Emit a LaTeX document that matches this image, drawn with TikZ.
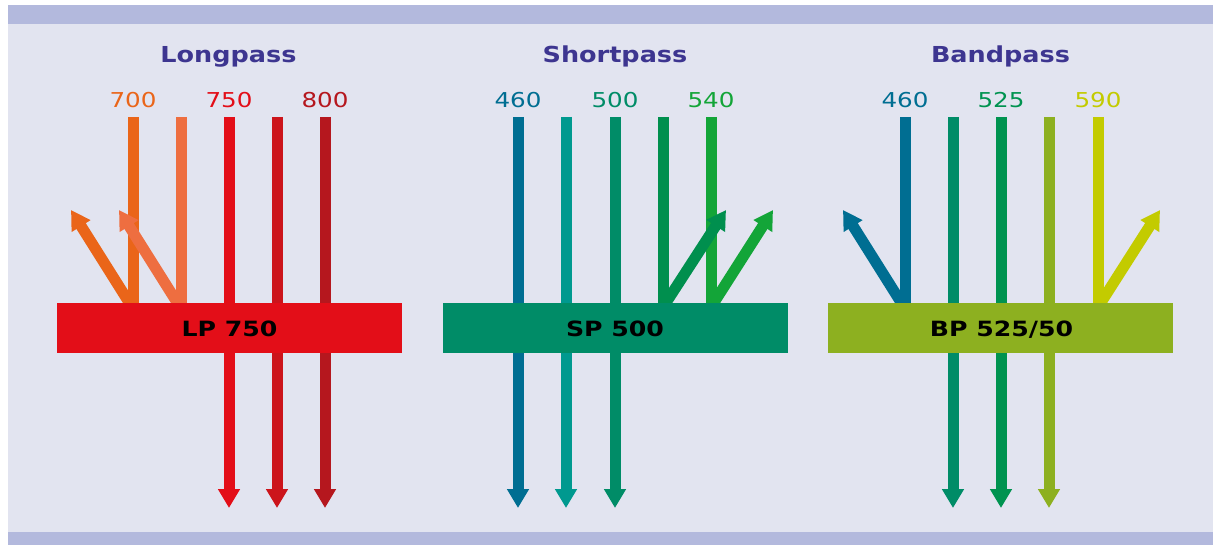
\documentclass[tikz,border=0pt]{standalone}
\usepackage{fontspec}
\setmainfont{Open Sans}
\newfontfamily\ttlfont[FakeStretch=1.16]{DejaVu Sans Bold}
\newfontfamily\filtfont[FakeStretch=1.2]{DejaVu Sans Bold}
\newfontfamily\wlfont[FakeStretch=1.2]{DejaVu Sans}
\usetikzlibrary{arrows.meta}
\definecolor{bgc}{HTML}{E2E4F0}
\definecolor{bandc}{HTML}{B3B9DD}
\definecolor{titlec}{HTML}{3D3590}
\definecolor{lpA}{HTML}{EA6519}
\definecolor{lpB}{HTML}{EE6E40}
\definecolor{lpC}{HTML}{E30E18}
\definecolor{lpD}{HTML}{CC141B}
\definecolor{lpE}{HTML}{B5171E}
\definecolor{spA}{HTML}{006E92}
\definecolor{spB}{HTML}{00998F}
\definecolor{spC}{HTML}{008C67}
\definecolor{spD}{HTML}{008F4E}
\definecolor{spE}{HTML}{13A538}
\definecolor{bpC}{HTML}{009350}
\definecolor{bpD}{HTML}{8DB020}
\definecolor{bpE}{HTML}{C3CB00}
\begin{document}
\begin{tikzpicture}[x=1pt,y=-1pt,
  ray/.style={line width=11pt},
  arr/.style={line width=11pt,-{Triangle[width=21pt,length=19pt]}},
  filt/.style={minimum width=345pt,minimum height=50pt,inner sep=0pt},
  filtlbl/.style={anchor=base,inner sep=0pt,font=\filtfont\fontsize{21}{21}\selectfont,text=black},
  wl/.style={anchor=base,inner sep=0pt,font=\wlfont\fontsize{20.5}{20.5}\selectfont},
  ttl/.style={anchor=base,inner sep=0pt,font=\ttlfont\fontsize{22}{22}\selectfont,text=titlec}]
\useasboundingbox (0,0) rectangle (1213,545);
\fill[white] (0,0) rectangle (1213,545);
\fill[bgc] (8,5) rectangle (1213,545);
\fill[bandc] (8,5) rectangle (1213,24);
\fill[bandc] (8,532) rectangle (1213,545);

% titles
\node[ttl] (t1) at (228.5,63) {Longpass};
\node[ttl] (t2) at (615,63) {Shortpass};
\node[ttl] (t3) at (1000.5,63) {Bandpass};

% wavelength labels
\node[wl,text=lpA] (w700) at (133,108) {700};
\node[wl,text=lpC] (w750) at (229,108) {750};
\node[wl,text=lpE] (w800) at (325,108) {800};
\node[wl,text=spA] (w460a) at (518,108) {460};
\node[wl,text=spC] (w500) at (615,108) {500};
\node[wl,text=spE] (w540) at (711,108) {540};
\node[wl,text=spA] (w460b) at (905,108) {460};
\node[wl,text=bpC] (w525) at (1001,108) {525};
\node[wl,text=bpE] (w590) at (1098,108) {590};

% coordinates: line tops and bottoms
\foreach \n/\x in {a1/133,a2/181,a3/229,a4/277,a5/325,
                   b1/518,b2/566,b3/615,b4/663,b5/711,
                   c1/905,c2/953,c3/1001,c4/1049,c5/1098}{
  \coordinate (\n t) at (\x,117);
  \coordinate (\n m) at (\x,315);
  \coordinate (\n s) at (\x,353);
  \coordinate (\n e) at (\x,508);
}
% reflection coordinates
\coordinate (ra1s) at (137,315); \coordinate (ra1e) at (71,210);
\coordinate (ra2s) at (185,315); \coordinate (ra2e) at (119,210);
\coordinate (rb4s) at (658,315); \coordinate (rb4e) at (726,210);
\coordinate (rb5s) at (706,315); \coordinate (rb5e) at (773,210);
\coordinate (rc1s) at (909,315); \coordinate (rc1e) at (843,210);
\coordinate (rc5s) at (1093,315); \coordinate (rc5e) at (1160,210);

% incoming rays
\draw[ray,lpA] (a1t) -- (a1m);
\draw[ray,lpB] (a2t) -- (a2m);
\draw[ray,lpC] (a3t) -- (a3m);
\draw[ray,lpD] (a4t) -- (a4m);
\draw[ray,lpE] (a5t) -- (a5m);
\draw[ray,spA] (b1t) -- (b1m);
\draw[ray,spB] (b2t) -- (b2m);
\draw[ray,spC] (b3t) -- (b3m);
\draw[ray,spD] (b4t) -- (b4m);
\draw[ray,spE] (b5t) -- (b5m);
\draw[ray,spA] (c1t) -- (c1m);
\draw[ray,spC] (c2t) -- (c2m);
\draw[ray,bpC] (c3t) -- (c3m);
\draw[ray,bpD] (c4t) -- (c4m);
\draw[ray,bpE] (c5t) -- (c5m);

% reflected rays
\draw[arr,lpA] (ra1s) -- (ra1e);
\draw[arr,lpB] (ra2s) -- (ra2e);
\draw[arr,spD] (rb4s) -- (rb4e);
\draw[arr,spE] (rb5s) -- (rb5e);
\draw[arr,spA] (rc1s) -- (rc1e);
\draw[arr,bpE] (rc5s) -- (rc5e);

% filters
\node[filt,fill=lpC] (lp) at (229.5,328) {};
\node[filt,fill=spC] (sp) at (615.5,328) {};
\node[filt,fill=bpD] (bp) at (1000.5,328) {};
\node[filtlbl] (lpl) at (229.5,337) {LP 750};
\node[filtlbl] (spl) at (615,337) {SP 500};
\node[filtlbl] (bpl) at (1001.5,337) {BP 525/50};

% transmitted rays
\draw[arr,lpC] (a3s) -- (a3e);
\draw[arr,lpD] (a4s) -- (a4e);
\draw[arr,lpE] (a5s) -- (a5e);
\draw[arr,spA] (b1s) -- (b1e);
\draw[arr,spB] (b2s) -- (b2e);
\draw[arr,spC] (b3s) -- (b3e);
\draw[arr,spC] (c2s) -- (c2e);
\draw[arr,bpC] (c3s) -- (c3e);
\draw[arr,bpD] (c4s) -- (c4e);
\end{tikzpicture}
\end{document}
